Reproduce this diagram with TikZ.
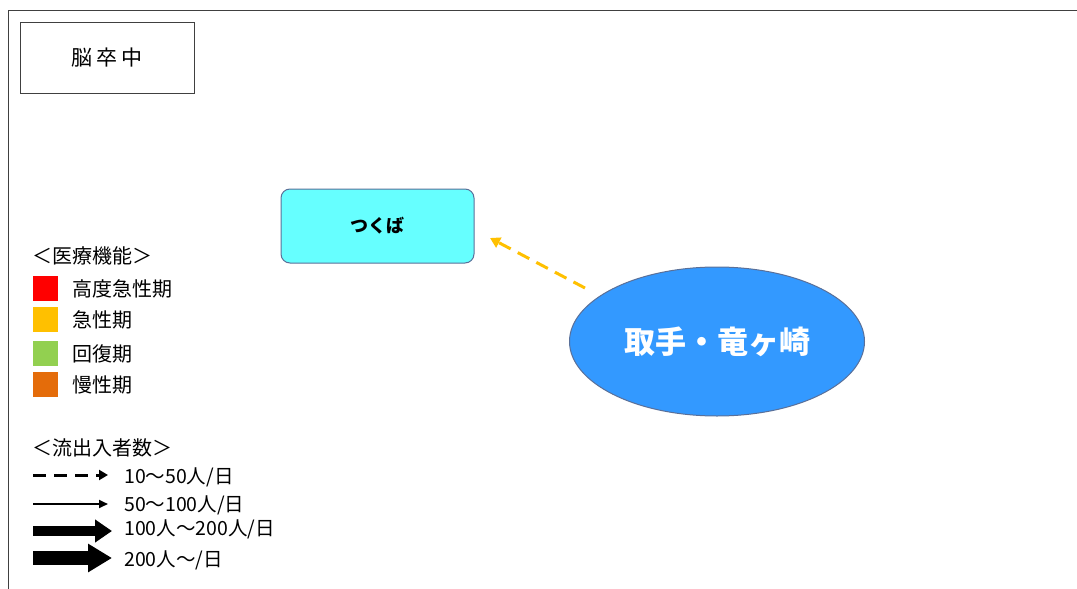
\documentclass[tikz,border=0pt]{standalone}
\usepackage{fontspec}
\setmainfont{Noto Sans CJK JP}
\usetikzlibrary{arrows.meta,shapes.geometric}
\definecolor{framegray}{HTML}{404040}
\definecolor{edgeblue}{HTML}{5A7099}
\definecolor{tsukubacyan}{HTML}{66FFFF}
\definecolor{areablue}{HTML}{3399FF}
\definecolor{acuteyellow}{HTML}{FFC000}
\definecolor{recovgreen}{HTML}{92D050}
\definecolor{chronorange}{HTML}{E46C0A}
\tikzset{
  titlebox/.style={draw=framegray, line width=1pt, minimum width=174pt, minimum height=71pt,
    font=\fontsize{21}{21}\selectfont},
  areabox/.style={draw=edgeblue, line width=1pt, rounded corners=9pt, fill=tsukubacyan,
    minimum width=193pt, minimum height=74pt, font=\bfseries\fontsize{18}{18}\selectfont},
  areaoval/.style={ellipse, draw=edgeblue, line width=1pt, fill=areablue, text=white, inner sep=0pt,
    minimum width=295pt, minimum height=149pt, font=\bfseries\fontsize{31}{31}\selectfont},
  legtext/.style={anchor=west, inner sep=0pt, font=\fontsize{20}{20}\selectfont},
  flowtext/.style={anchor=west, inner sep=0pt, font=\fontsize{19.5}{19.5}\selectfont},
  flowdash/.style={acuteyellow, line width=3pt, dash pattern=on 13pt off 8pt,
    -{Triangle[width=11pt,length=10pt]}}
}
\begin{document}
\begin{tikzpicture}[x=1pt,y=-1pt]
    \useasboundingbox (0,0) rectangle (1077,589);
    % Frame
    \draw[framegray, line width=1pt] (8,589) -- (8,10) -- (1077,10);
    % Title
    \node[titlebox] (title) at (107,58) {脳\hspace{4pt}卒\hspace{4pt}中};
    % Areas
    \node[areabox] (tsukuba) at (377.5,226) {つくば};
    \node[areaoval] (toride) at (717,341.5) {取手・竜ヶ崎};
    % Flow
    \coordinate (tsukubain) at (490,238);
    \coordinate (torideout) at (585,288);
    \draw[flowdash] (torideout) -- (tsukubain);

    % Legend: medical function
    \node[legtext] (funchead) at (32,256) {＜医療機能＞};
    \foreach \y/\col/\name/\lbl in {276/red/high/高度急性期, 307/acuteyellow/acute/急性期,
                                  341/recovgreen/recov/回復期, 372/chronorange/chron/慢性期} {
        \fill[\col] (33,\y) rectangle (58,\y+25);
        \node[legtext] (\name) at (72,\y+13) {\lbl};
    }

    % Legend: number of patients
    \node[legtext] (flowhead) at (32,448) {＜流出入者数＞};
    \coordinate (la) at (33,475);  \coordinate (lb) at (108,475);
    \coordinate (lc) at (33,504);  \coordinate (ld) at (108,504);
    \coordinate (le) at (33,531);  \coordinate (lf) at (112,531);
    \coordinate (lg) at (33,558);  \coordinate (lh) at (112,558);
    \draw[line width=3pt, dash pattern=on 13pt off 8pt, -{Triangle[width=10pt,length=9pt]}] (la) -- (lb);
    \draw[line width=2pt, -{Triangle[width=8pt,length=9pt]}] (lc) -- (ld);
    \draw[line width=10pt, -{Triangle[width=22pt,length=17pt]}] (le) -- (lf);
    \draw[line width=14pt, -{Triangle[width=27pt,length=24pt]}] (lg) -- (lh);
    \node[flowtext] (f1) at (124,477) {10〜50人/日};
    \node[flowtext] (f2) at (124,505) {50〜100人/日};
    \node[flowtext] (f3) at (124,529) {100人〜200人/日};
    \node[flowtext] (f4) at (124,560) {200人〜/日};
\end{tikzpicture}
\end{document}
